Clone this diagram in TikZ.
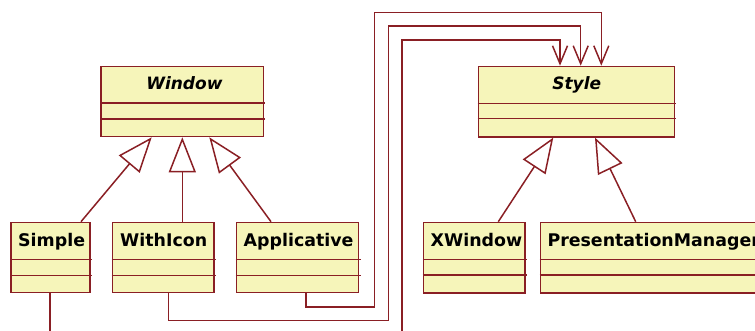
\documentclass[tikz,border=0pt]{standalone}
\usepackage{fontspec}
\setmainfont{DejaVu Sans}
\usetikzlibrary{arrows.meta}
\definecolor{umlline}{HTML}{8A1F24}
\definecolor{umlfill}{HTML}{F6F5BA}
\begin{document}
\begin{tikzpicture}[x=1pt,y=-1pt,
  cls/.style={draw=umlline, fill=umlfill, line width=1.6pt, inner sep=0pt, anchor=north west, minimum height=70pt},
  sepl/.style={draw=umlline, line width=1.6pt},
  cname/.style={anchor=base west, inner sep=0pt, font=\fontsize{17.4}{19}\selectfont\bfseries},
  aname/.style={anchor=base, inner sep=0pt, font=\fontsize{17}{19}\selectfont\bfseries\itshape},
  gen/.style={draw=umlline, line width=1.5pt, -{Triangle[open, length=35pt, width=27pt]}},
  dep/.style={draw=umlline, line width=1.5pt, -{Straight Barb[length=18pt, width=15pt]}}]
\useasboundingbox (0,0) rectangle (755,331);
\clip (0,0) rectangle (755,331);
% class boxes
\node[cls, minimum width=162.7pt] (window) at (100,65.7) {};
\node[cls, minimum width=196pt, minimum height=70.3pt] (style) at (477.7,65.7) {};
\node[cls, minimum width=79.3pt] (simple) at (10,221.7) {};
\node[cls, minimum width=101.3pt] (withicon) at (111.7,221.7) {};
\node[cls, minimum width=122pt] (applicative) at (235.7,221.7) {};
\node[cls, minimum width=101.6pt, minimum height=70.3pt] (xwindow) at (422.7,221.7) {};
\node[cls, minimum width=260pt, minimum height=70.3pt] (pm) at (539.7,221.7) {};
% compartment separators
\draw[sepl] (100,103.3) -- (265,103.3) (100,119) -- (265,119);
\draw[sepl] (477.7,103.7) -- (676,103.7) (477.7,118.7) -- (676,118.7);
\draw[sepl] (10,259.3) -- (92,259.3) (10,275.3) -- (92,275.3);
\draw[sepl] (111.7,259.3) -- (215.7,259.3) (111.7,275.3) -- (215.7,275.3);
\draw[sepl] (235.7,259.3) -- (360.5,259.3) (235.7,275.3) -- (360.5,275.3);
\draw[sepl] (422.7,259.3) -- (526.7,259.3) (422.7,274.7) -- (526.7,274.7);
\draw[sepl] (539.7,259.3) -- (760,259.3) (539.7,274.7) -- (760,274.7);
% names
\node[aname] (window-name) at (184.4,89.5) {Window};
\node[aname] (style-name) at (576.7,90) {Style};
\node[cname] (simple-name) at (18,247) {Simple};
\node[cname] (withicon-name) at (120,247) {WithIcon};
\node[cname] (applicative-name) at (243.5,247) {Applicative};
\node[cname] (xwindow-name) at (430.5,247) {XWindow};
\node[cname] (pm-name) at (547.3,247) {PresentationManager};
% generalizations
\draw[gen] (81,0 |- simple.north) -- (151.7,0 |- window.south);
\draw[gen] (182.3,0 |- withicon.north) -- (182.3,0 |- window.south);
\draw[gen] (271,0 |- applicative.north) -- (209.3,0 |- window.south);
\draw[gen] (498.3,0 |- xwindow.north) -- (553.3,0 |- style.south);
\draw[gen] (635.7,0 |- pm.north) -- (595,0 |- style.south);
% dependencies
\draw[dep] (306,0 |- applicative.south) |- (374.3,307) |- (601.3,12.3) -- (601.3,0 |- style.north);
\draw[dep] (168.3,0 |- withicon.south) |- (388.3,320.7) |- (580.7,26) -- (580.7,0 |- style.north);
\draw[dep] (50,0 |- simple.south) |- (402,350) |- (560,40) -- (560,0 |- style.north);
\end{tikzpicture}
\end{document}
